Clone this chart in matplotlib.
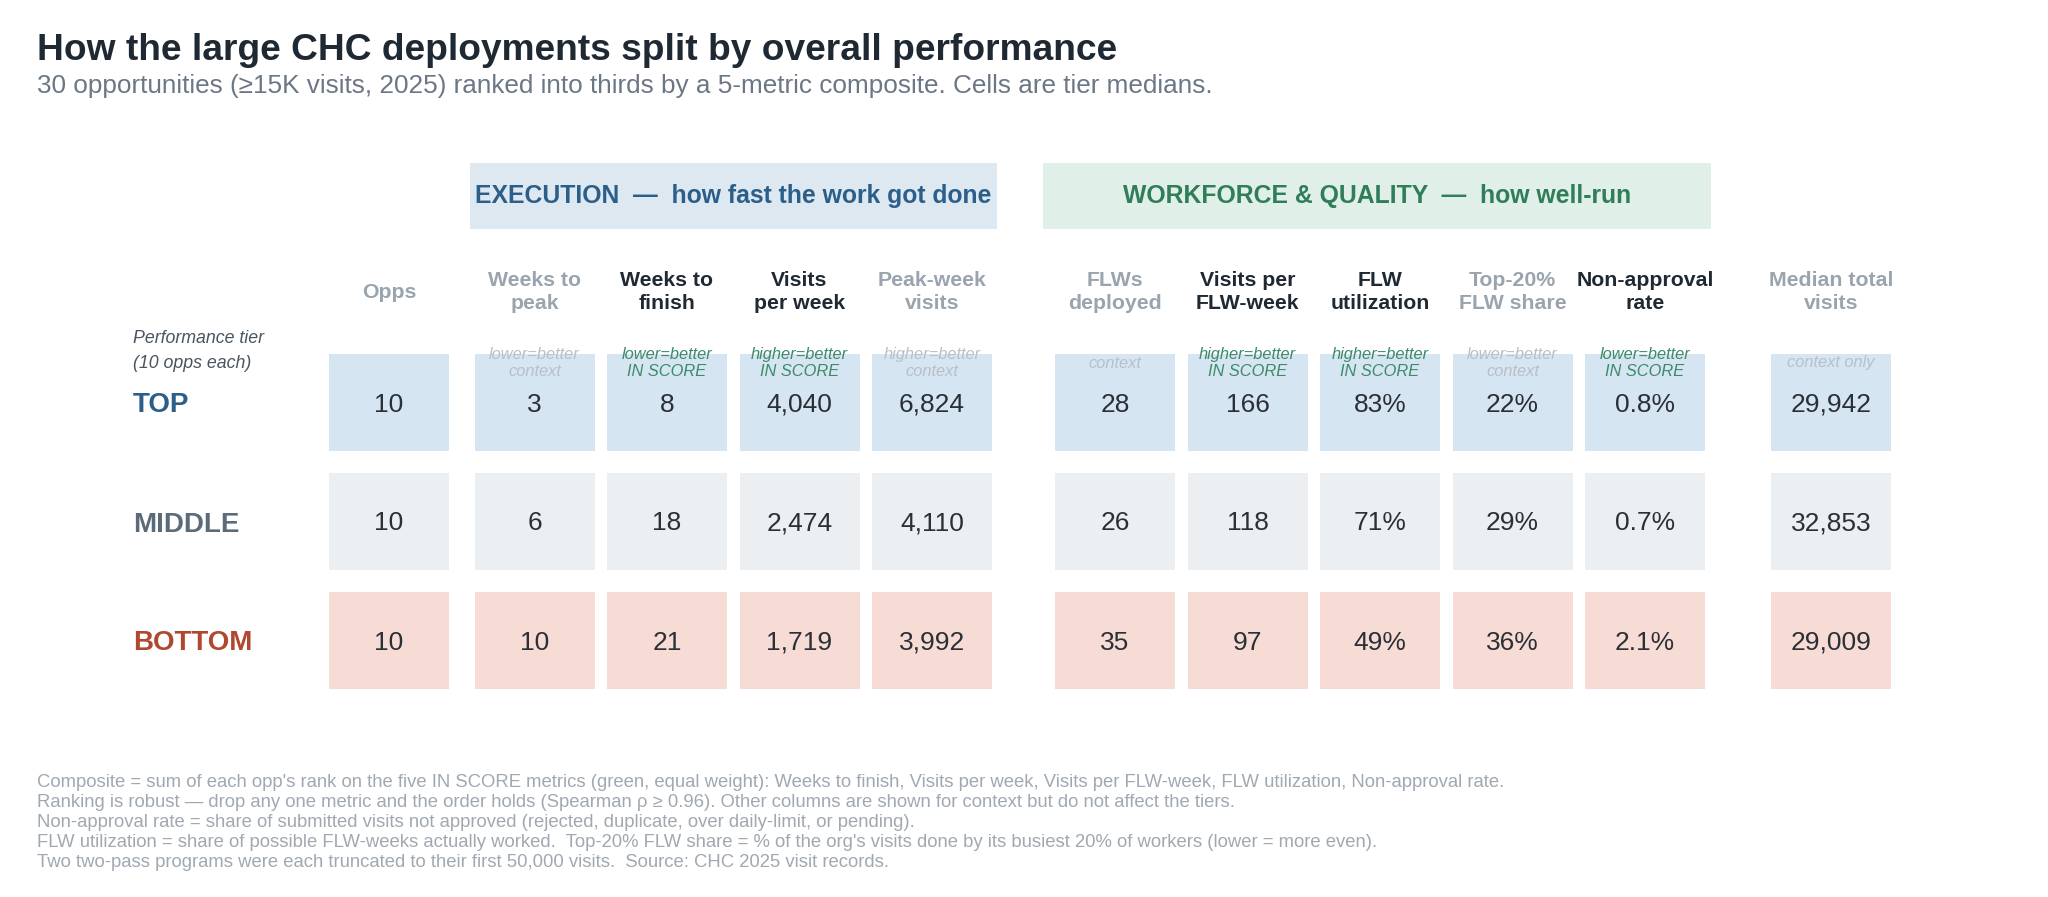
import matplotlib
matplotlib.use("Agg")
import matplotlib.pyplot as plt
from matplotlib.patches import Rectangle

plt.rcParams['font.family'] = ['Liberation Sans', 'DejaVu Sans']

# ---- data ----
tiers = ["TOP", "MIDDLE", "BOTTOM"]
tier_note = "Performance tier\n(10 opps each)"

col_headers = ["Opps", "Weeks to\npeak", "Weeks to\nfinish", "Visits\nper week", "Peak-week\nvisits",
               "FLWs\ndeployed", "Visits per\nFLW-week", "FLW\nutilization", "Top-20%\nFLW share",
               "Non-approval\nrate", "Median total\nvisits"]
in_score = [False, False, True, True, False, False, True, True, False, True, False]
col_tags = ["", "lower=better\ncontext", "lower=better\nIN SCORE", "higher=better\nIN SCORE",
            "higher=better\ncontext", "context", "higher=better\nIN SCORE", "higher=better\nIN SCORE",
            "lower=better\ncontext", "lower=better\nIN SCORE", "context only"]

opps = [10, 10, 10]
weeks_to_peak = [3, 6, 10]
weeks_to_finish = [8, 18, 21]
visits_per_week = [4040, 2474, 1719]
peak_week_visits = [6824, 4110, 3992]
flws_deployed = [28, 26, 35]
visits_per_flw_week = [166, 118, 97]
flw_utilization = [83, 71, 49]
top20_share = [22, 29, 36]
non_approval = [0.8, 0.7, 2.1]
median_total_visits = [29942, 32853, 29009]

groups = [("EXECUTION  —  how fast the work got done", 1, 4),
          ("WORKFORCE & QUALITY  —  how well-run", 5, 9)]

footnotes = [
    "Composite = sum of each opp's rank on the five IN SCORE metrics (green, equal weight): Weeks to finish, Visits per week, Visits per FLW-week, FLW utilization, Non-approval rate.",
    "Ranking is robust — drop any one metric and the order holds (Spearman ρ ≥ 0.96). Other columns are shown for context but do not affect the tiers.",
    "Non-approval rate = share of submitted visits not approved (rejected, duplicate, over daily-limit, or pending).",
    "FLW utilization = share of possible FLW-weeks actually worked.  Top-20% FLW share = % of the org's visits done by its busiest 20% of workers (lower = more even).",
    "Two two-pass programs were each truncated to their first 50,000 visits.  Source: CHC 2025 visit records.",
]

columns = [
    [f"{v}" for v in opps],
    [f"{v}" for v in weeks_to_peak],
    [f"{v}" for v in weeks_to_finish],
    [f"{v:,}" for v in visits_per_week],
    [f"{v:,}" for v in peak_week_visits],
    [f"{v}" for v in flws_deployed],
    [f"{v}" for v in visits_per_flw_week],
    [f"{v}%" for v in flw_utilization],
    [f"{v}%" for v in top20_share],
    [f"{v:.1f}%" for v in non_approval],
    [f"{v:,}" for v in median_total_visits],
]

# ---- styling ----
cell_colors = ["#d6e5f2", "#eceff2", "#f7dcd6"]
tier_colors = ["#2b5f8a", "#5b6b7a", "#b0472f"]
band_colors = ["#dde8f1", "#e0efe8"]
band_text = ["#2b5f8a", "#2f7d59"]
DARK = "#1f2933"
MUTED = "#9aa4ae"
GREEN = "#3d8a68"
TAGGRAY = "#b8c0c7"

W, H = 2048, 897
fig = plt.figure(figsize=(W / 100, H / 100), dpi=100)
ax = fig.add_axes([0, 0, 1, 1])
ax.set_xlim(0, W)
ax.set_ylim(H, 0)
ax.axis("off")

x0, pitch, cw = 329, 132.5, 120
offsets = [0, 13, 13, 13, 13, 63.5, 63.5, 63.5, 63.5, 63.5, 117]
col_left = [x0 + i * pitch + offsets[i] for i in range(len(col_headers))]
row_top0, row_pitch, ch = 354, 119, 97

fig.text(37 / W, 1 - 51 / H, "How the large CHC deployments split by overall performance",
         fontsize=26.7, fontweight="bold", color=DARK, va="center")
fig.text(37 / W, 1 - 86 / H,
         "30 opportunities (≥15K visits, 2025) ranked into thirds by a 5-metric composite. Cells are tier medians.",
         fontsize=18.8, color="#6b7785", va="center")

# group bands
for g, (label, c0, c1) in enumerate(groups):
    left = col_left[c0] - (5 if g == 0 else 12)
    right = col_left[c1] + cw + 5 if g == 0 else col_left[c1] + cw + 6
    ax.add_patch(Rectangle((left, 163), right - left, 66, color=band_colors[g], lw=0))
    ax.text((left + right) / 2, 196, label, ha="center", va="center", fontsize=17.8,
            fontweight="bold", color=band_text[g])

# column headers and tags
for i, hdr in enumerate(col_headers):
    cx = col_left[i] + cw / 2
    ax.text(cx, 292, hdr, ha="center", va="center", fontsize=15.3, fontweight="bold",
            color=DARK if in_score[i] else MUTED, linespacing=1.25)

ax.text(133, 351, tier_note, ha="left", va="center", fontsize=12.8, style="italic",
        color="#4a5560", linespacing=1.55)

# cells
for r, tier in enumerate(tiers):
    top = row_top0 + r * row_pitch
    cy = top + ch / 2
    ax.text(133, cy + 3, tier, ha="left", va="center", fontsize=20, fontweight="bold", color=tier_colors[r])
    for i, vals in enumerate(columns):
        ax.add_patch(Rectangle((col_left[i], top), cw, ch, color=cell_colors[r], lw=0))
        ax.text(col_left[i] + cw / 2, cy + 2, vals[r], ha="center", va="center", fontsize=19, color="#2b2f36")

for i, tag in enumerate(col_tags):
    if tag:
        ax.text(col_left[i] + cw / 2, 363, tag, ha="center", va="center", fontsize=11.8, style="italic",
                color=GREEN if in_score[i] else TAGGRAY, linespacing=1.1)

for k, line in enumerate(footnotes):
    fig.text(37 / W, 1 - (782 + k * 20.2) / H, line, fontsize=13.3, color="#a0a8b1", va="center")

fig.savefig("out.png", dpi=100)
